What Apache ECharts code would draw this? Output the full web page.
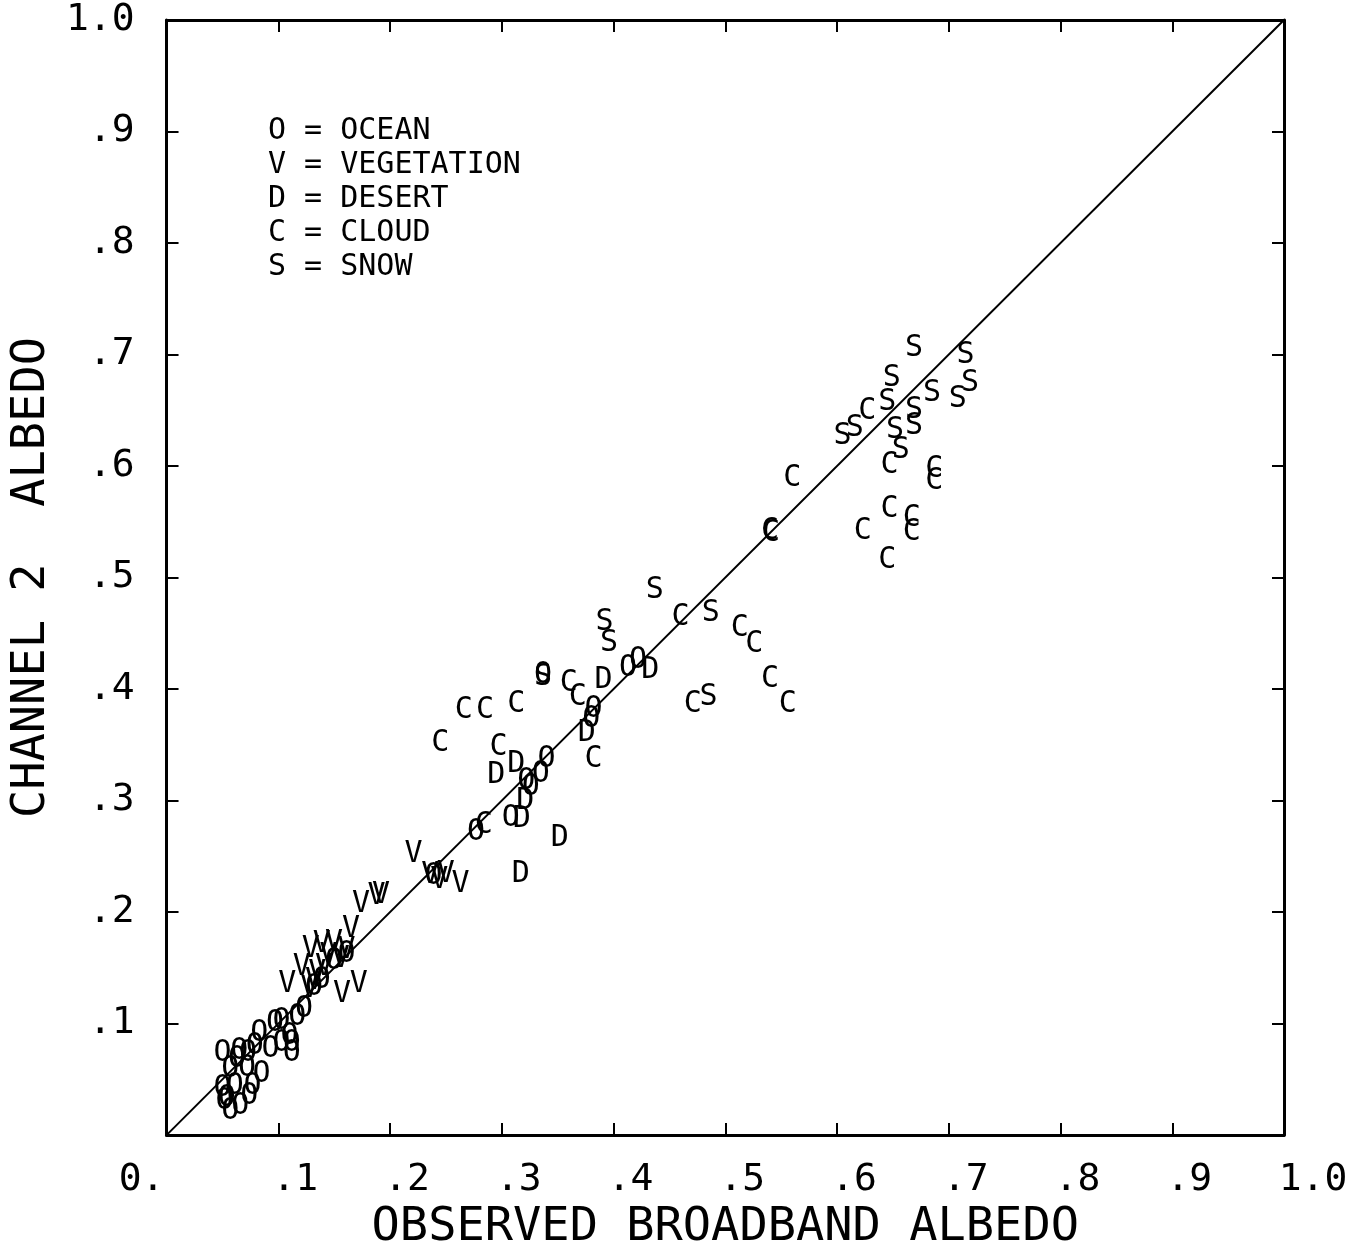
<!DOCTYPE html>
<html>
<head>
<meta charset="utf-8">
<script src="https://cdn.jsdelivr.net/npm/echarts@6/dist/echarts.min.js"></script>
<style>
  html, body { margin: 0; padding: 0; background: #fff; }
  #chart { width: 1366px; height: 1256px; }
</style>
</head>
<body>
<div id="chart"></div>
<script>
// observed broadband albedo (x) vs channel 2 albedo (y), one list per surface type
const ocean = [
  [0.050, 0.073], [0.065, 0.075], [0.073, 0.073], [0.083, 0.091], [0.093, 0.077],
  [0.097, 0.100], [0.103, 0.102], [0.103, 0.082], [0.112, 0.073], [0.112, 0.082],
  [0.117, 0.106], [0.123, 0.113], [0.050, 0.042], [0.052, 0.030], [0.057, 0.021],
  [0.066, 0.026], [0.074, 0.035], [0.077, 0.044], [0.085, 0.055], [0.072, 0.060],
  [0.057, 0.059], [0.063, 0.068], [0.061, 0.044], [0.054, 0.033], [0.079, 0.080],
  [0.110, 0.089], [0.132, 0.133], [0.139, 0.139], [0.150, 0.156], [0.161, 0.162],
  [0.239, 0.232], [0.277, 0.272], [0.308, 0.284], [0.322, 0.317], [0.335, 0.324],
  [0.340, 0.337], [0.326, 0.312], [0.382, 0.382], [0.380, 0.373], [0.337, 0.412],
  [0.413, 0.419], [0.422, 0.426]
];
const vegetation = [
  [0.108, 0.135], [0.121, 0.151], [0.129, 0.167], [0.139, 0.171], [0.150, 0.172],
  [0.165, 0.185], [0.157, 0.126], [0.172, 0.135], [0.161, 0.166], [0.156, 0.158],
  [0.135, 0.145], [0.141, 0.151], [0.132, 0.138], [0.145, 0.160], [0.128, 0.131],
  [0.174, 0.207], [0.188, 0.214], [0.192, 0.215], [0.221, 0.252], [0.236, 0.233],
  [0.244, 0.229], [0.250, 0.234], [0.263, 0.225]
];
const desert = [
  [0.391, 0.408], [0.433, 0.417], [0.376, 0.360], [0.313, 0.333], [0.295, 0.323],
  [0.321, 0.299], [0.318, 0.283], [0.352, 0.266], [0.317, 0.234]
];
const cloud = [
  [0.540, 0.542], [0.541, 0.540], [0.560, 0.589], [0.627, 0.649], [0.647, 0.601],
  [0.687, 0.597], [0.687, 0.586], [0.647, 0.561], [0.623, 0.542], [0.667, 0.553],
  [0.667, 0.541], [0.645, 0.516], [0.460, 0.464], [0.513, 0.455], [0.526, 0.440],
  [0.540, 0.409], [0.556, 0.386], [0.471, 0.386], [0.266, 0.381], [0.285, 0.381],
  [0.313, 0.386], [0.245, 0.351], [0.297, 0.348], [0.360, 0.405], [0.368, 0.393],
  [0.382, 0.337], [0.284, 0.278]
];
const snow = [
  [0.669, 0.706], [0.715, 0.699], [0.649, 0.679], [0.719, 0.674], [0.685, 0.665],
  [0.708, 0.660], [0.645, 0.657], [0.669, 0.650], [0.605, 0.627], [0.616, 0.634],
  [0.652, 0.632], [0.669, 0.636], [0.657, 0.614], [0.437, 0.489], [0.487, 0.468],
  [0.392, 0.460], [0.396, 0.441], [0.485, 0.393], [0.337, 0.411]
];
const oneToOne = [[0, 0], [1, 1]];
const legendLines = ['O = OCEAN', 'V = VEGETATION', 'D = DESERT', 'C = CLOUD', 'S = SNOW'];
const xTitle = 'OBSERVED BROADBAND ALBEDO';
const yTitle = 'CHANNEL 2  ALBEDO';

const FONT = 'DejaVu Sans Mono';

function tickText(v) {
  if (v === 0) return '0.';
  if (v >= 1) return '1.0';
  return '.' + Math.round(v * 10);
}

function letters(data, ch) {
  return {
    type: 'scatter',
    data: data,
    symbolSize: 1,
    itemStyle: { color: 'rgba(0,0,0,0)', opacity: 1 },
    label: {
      show: true,
      position: 'inside',
      formatter: ch,
      fontFamily: FONT,
      fontSize: 30,
      color: '#000',
      opacity: 1
    },
    silent: true,
    z: 5
  };
}

const frameAxis = {
  min: 0, max: 1, interval: 0.1,
  type: 'value',
  splitLine: { show: false },
  axisLine: { show: true, onZero: false, lineStyle: { color: '#000', width: 3 } },
  axisTick: { show: true, inside: true, length: 12, lineStyle: { color: '#000', width: 2 } }
};

const chart = echarts.init(document.getElementById('chart'));
chart.setOption({
  animation: false,
  backgroundColor: '#fff',
  grid: { left: 162, right: 82, top: 20, bottom: 117 },
  xAxis: [
    Object.assign({}, frameAxis, {
      position: 'bottom',
      name: xTitle,
      nameLocation: 'middle',
      nameGap: 66,
      nameTextStyle: { fontFamily: FONT, fontSize: 47, color: '#000' },
      axisLabel: {
        margin: 26,
        formatter: function (v) {
          const t = tickText(v);
          if (v === 0) return '{z|' + t + '}';
          if (v >= 1) return '{e|' + t + '}';
          return '{a|' + t + '}';
        },
        rich: {
          z: { fontFamily: FONT, fontSize: 38, color: '#000', padding: [0, 50, 0, 0] },
          a: { fontFamily: FONT, fontSize: 38, color: '#000', padding: [0, 0, 0, 34] },
          e: { fontFamily: FONT, fontSize: 38, color: '#000', padding: [0, 0, 0, 58] }
        }
      }
    }),
    Object.assign({}, frameAxis, { position: 'top', axisLabel: { show: false } })
  ],
  yAxis: [
    Object.assign({}, frameAxis, {
      position: 'left',
      name: yTitle,
      nameLocation: 'middle',
      nameGap: 108,
      nameTextStyle: { fontFamily: FONT, fontSize: 47, color: '#000' },
      axisLabel: {
        margin: 32,
        showMinLabel: false,
        fontFamily: FONT,
        fontSize: 38,
        color: '#000',
        formatter: tickText
      }
    }),
    Object.assign({}, frameAxis, { position: 'right', axisLabel: { show: false } })
  ],
  graphic: [{
    type: 'text',
    left: 268,
    top: 114,
    style: {
      text: legendLines.join('\n'),
      font: '30px "' + FONT + '"',
      lineHeight: 34,
      fill: '#000'
    }
  }],
  series: [
    {
      type: 'line',
      data: oneToOne,
      symbol: 'none',
      lineStyle: { color: '#000', width: 2 },
      silent: true,
      z: 3
    },
    letters(ocean, 'O'),
    letters(vegetation, 'V'),
    letters(desert, 'D'),
    letters(cloud, 'C'),
    letters(snow, 'S')
  ]
});
</script>
</body>
</html>
